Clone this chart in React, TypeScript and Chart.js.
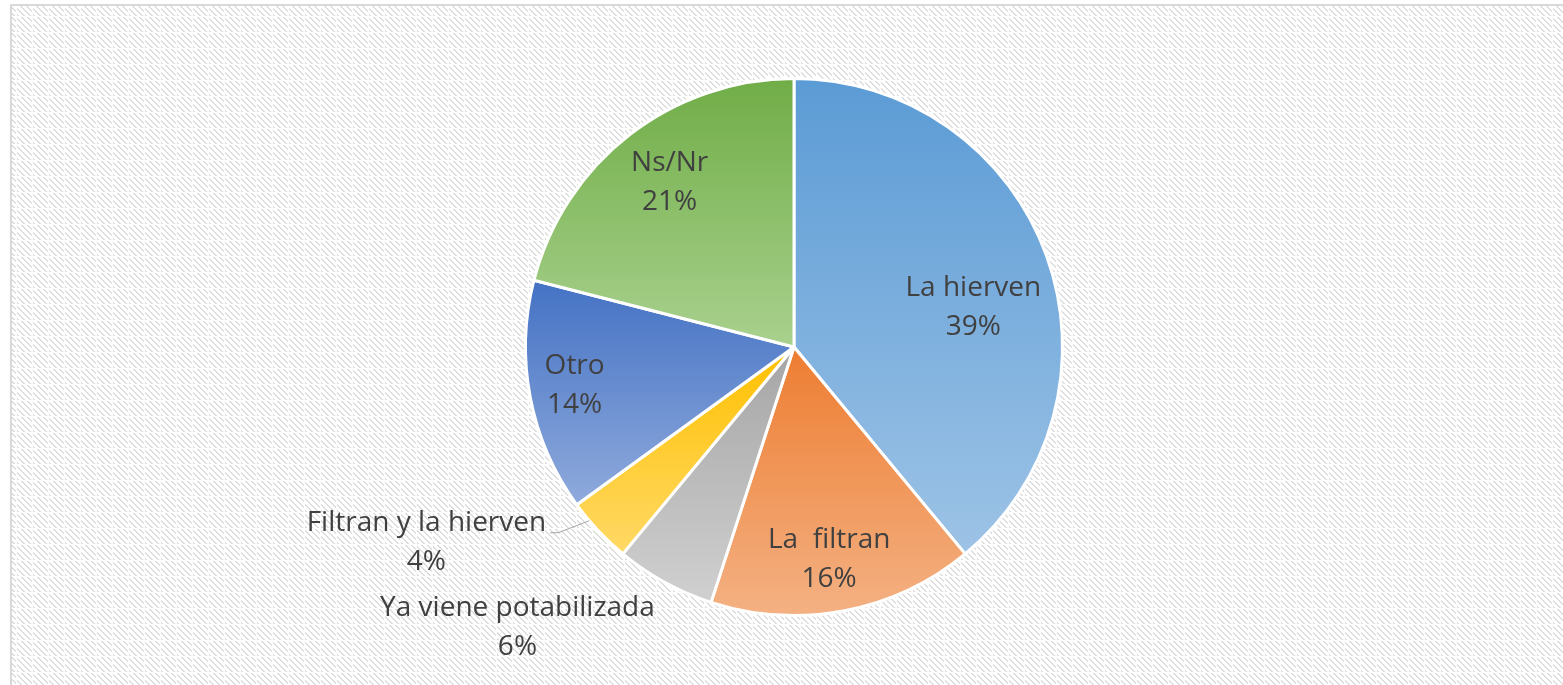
import React, { useEffect, useRef } from "react";
import { Chart, registerables } from "chart.js";

Chart.register(...registerables);

const categories = [
  "La hierven",
  "La  filtran",
  "Ya viene potabilizada",
  "Filtran y la hierven",
  "Otro",
  "Ns/Nr",
];
const values = [39, 16, 6, 4, 14, 21];
const topColors = ["#5B9BD5", "#ED7D31", "#A5A5A5", "#FFC000", "#4472C4", "#70AD47"];
const bottomColors = ["#9DC3E6", "#F4B183", "#D0D0D0", "#FFD966", "#8FAADC", "#A9D18E"];
// label anchor offsets (in radius units, from pie centre)
const labelOffsets: [number, number][] = [
  [0.668, -0.147],
  [0.131, 0.793],
  [-1.03, 1.045],
  [-1.369, 0.729],
  [-0.817, 0.144],
  [-0.463, -0.612],
];

function sliceAngles(i: number) {
  const total = values.reduce((a, b) => a + b, 0);
  let before = 0;
  for (let k = 0; k < i; k++) before += values[k];
  const a0 = (before / total) * Math.PI * 2;
  const a1 = ((before + values[i]) / total) * Math.PI * 2;
  return [a0, a1];
}

function geom(chart: any) {
  const ca = chart.chartArea;
  const cx = (ca.left + ca.right) / 2;
  const cy = (ca.top + ca.bottom) / 2;
  const r = Math.min(ca.right - ca.left, ca.bottom - ca.top) / 2 - 1.5;
  return { cx, cy, r };
}

function makePattern(ctx: CanvasRenderingContext2D) {
  const c = document.createElement("canvas");
  c.width = 16;
  c.height = 16;
  const p = c.getContext("2d")!;
  p.fillStyle = "#ffffff";
  p.fillRect(0, 0, 16, 16);
  p.fillStyle = "#DEDEDE";
  for (let y = 1; y < 16; y++) {
    for (let x = 1; x < 16; x++) {
      const d = Math.floor((x - y + 32) / 2);
      if (d % 3 === 0) p.fillRect(x, y, 1, 1);
    }
  }
  return ctx.createPattern(c, "repeat");
}

const bgPlugin = {
  id: "bgPlugin",
  beforeDraw(chart: any) {
    const ctx = chart.ctx as CanvasRenderingContext2D;
    ctx.save();
    ctx.fillStyle = "#ffffff";
    ctx.fillRect(0, 0, chart.width, chart.height);
    const pat = makePattern(ctx);
    if (pat) {
      ctx.fillStyle = pat;
      ctx.fillRect(11, 5, chart.width, chart.height);
    }
    ctx.strokeStyle = "#D9D9D9";
    ctx.lineWidth = 2;
    ctx.strokeRect(11, 5, chart.width + 10, chart.height + 10);
    ctx.restore();
  },
};

const labelPlugin = {
  id: "labelPlugin",
  afterDatasetsDraw(chart: any) {
    const ctx = chart.ctx as CanvasRenderingContext2D;
    const { cx, cy, r } = geom(chart);
    ctx.save();
    ctx.font = "28px 'Open Sans', sans-serif";
    ctx.fillStyle = "#404040";
    ctx.textAlign = "center";
    ctx.textBaseline = "middle";
    categories.forEach((cat, i) => {
      const [fx, fy] = labelOffsets[i];
      const x = cx + fx * r;
      const y = cy + fy * r;
      ctx.fillText(cat, x, y - 19.5);
      ctx.fillText(values[i] + "%", x, y + 19.5);
      if (i === 3) {
        const w = ctx.measureText(cat).width;
        const [a0, a1] = sliceAngles(i);
        const am = a0 + (a1 - a0) * 0.7;
        const ex = cx + r * Math.sin(am);
        const ey = cy - r * Math.cos(am);
        ctx.strokeStyle = "#A6A6A6";
        ctx.lineWidth = 1;
        ctx.beginPath();
        ctx.moveTo(x + w / 2 + 4, y - 10);
        ctx.lineTo(x + w / 2 + 12, y - 10);
        ctx.lineTo(ex, ey);
        ctx.stroke();
      }
    });
    ctx.restore();
  },
};

export default function App() {
  const ref = useRef<HTMLCanvasElement>(null);
  useEffect(() => {
    if (!ref.current) return;
    const chart = new Chart(ref.current, {
      type: "pie",
      data: {
        labels: categories,
        datasets: [
          {
            data: values,
            borderColor: "#ffffff",
            borderWidth: 3,
            backgroundColor: (c: any) => {
              const chart = c.chart;
              if (!chart.chartArea) return topColors[c.dataIndex];
              const { cx, cy, r } = geom(chart);
              const i = c.dataIndex;
              const [a0, a1] = sliceAngles(i);
              const ys = [cy, cy - r * Math.cos(a0), cy - r * Math.cos(a1)];
              if (a0 <= 1e-6 || a1 >= Math.PI * 2 - 1e-6) ys.push(cy - r);
              if (a0 <= Math.PI && a1 >= Math.PI) ys.push(cy + r);
              const yMin = Math.min(...ys);
              const yMax = Math.max(...ys);
              const g = chart.ctx.createLinearGradient(0, yMin, 0, yMax);
              g.addColorStop(0, topColors[i]);
              g.addColorStop(1, bottomColors[i]);
              return g;
            },
          },
        ],
      },
      options: {
        animation: false,
        responsive: true,
        maintainAspectRatio: false,
        layout: { padding: { top: 77, bottom: 68, left: 100, right: 75 } },
        plugins: {
          legend: { display: false },
          tooltip: { enabled: false },
        },
      },
      plugins: [bgPlugin, labelPlugin],
    });
    return () => chart.destroy();
  }, []);
  return (
    <div style={{ position: "fixed", left: 0, top: 0, width: 1563, height: 685 }}>
      <canvas ref={ref} />
    </div>
  );
}
